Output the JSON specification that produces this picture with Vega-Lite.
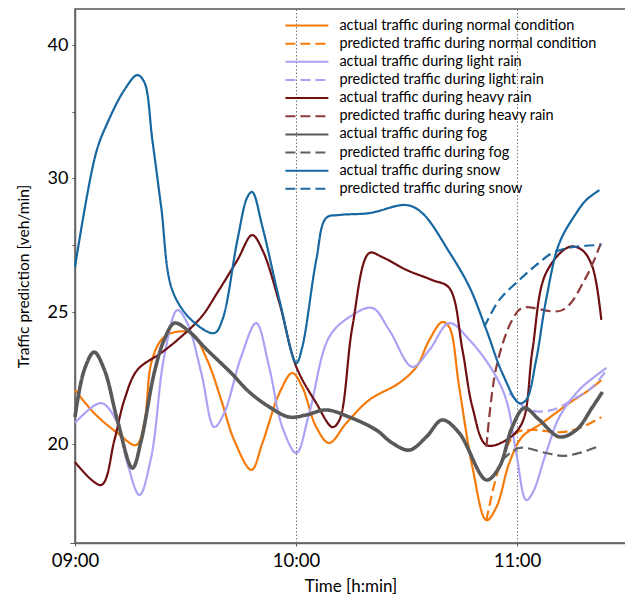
{
  "$schema": "https://vega.github.io/schema/vega-lite/v6.json",
  "autosize": {"type": "none"},
  "padding": {"left": 75, "top": 9, "right": 0, "bottom": 57},
  "width": 551,
  "height": 534,
  "background": "white",
  "config": {
    "font": "Lato",
    "view": {"stroke": "#555555", "strokeWidth": 1.5},
    "axis": {"labelFont": "Lato", "titleFont": "Lato", "labelColor": "#000", "titleColor": "#000", "titleFontWeight": "normal", "domainColor": "#666666", "domainWidth": 1.5, "tickColor": "#555555"},
    "legend": {
      "title": null, "orient": "none", "legendX": 224.4, "legendY": 9,
      "symbolType": "M-3.5,0H3.5", "symbolSize": 151, "symbolStrokeWidth": 2,
      "labelFont": "Lato", "labelFontSize": 14.5, "labelColor": "#000", "labelOffset": 25,
      "rowPadding": 3.15, "padding": 0, "labelLimit": 400
    }
  },
  "data": {
    "format": {"parse": {"t": "date:'%H:%M:%S'"}},
    "values": [
      {"s": "actual traffic during normal condition", "t": "09:00:00", "v": 22.05},
      {"s": "actual traffic during normal condition", "t": "09:05:12", "v": 21.17},
      {"s": "actual traffic during normal condition", "t": "09:11:30", "v": 20.42},
      {"s": "actual traffic during normal condition", "t": "09:16:36", "v": 19.96},
      {"s": "actual traffic during normal condition", "t": "09:18:48", "v": 20.8},
      {"s": "actual traffic during normal condition", "t": "09:20:42", "v": 23.07},
      {"s": "actual traffic during normal condition", "t": "09:23:24", "v": 23.94},
      {"s": "actual traffic during normal condition", "t": "09:26:06", "v": 24.2},
      {"s": "actual traffic during normal condition", "t": "09:31:36", "v": 24.2},
      {"s": "actual traffic during normal condition", "t": "09:35:54", "v": 23.18},
      {"s": "actual traffic during normal condition", "t": "09:39:42", "v": 21.67},
      {"s": "actual traffic during normal condition", "t": "09:43:12", "v": 20.15},
      {"s": "actual traffic during normal condition", "t": "09:47:54", "v": 19.02},
      {"s": "actual traffic during normal condition", "t": "09:50:54", "v": 20.04},
      {"s": "actual traffic during normal condition", "t": "09:55:30", "v": 21.93},
      {"s": "actual traffic during normal condition", "t": "09:59:00", "v": 22.69},
      {"s": "actual traffic during normal condition", "t": "10:01:42", "v": 22.16},
      {"s": "actual traffic during normal condition", "t": "10:05:30", "v": 20.64},
      {"s": "actual traffic during normal condition", "t": "10:09:00", "v": 20.04},
      {"s": "actual traffic during normal condition", "t": "10:13:42", "v": 20.8},
      {"s": "actual traffic during normal condition", "t": "10:19:54", "v": 21.67},
      {"s": "actual traffic during normal condition", "t": "10:28:00", "v": 22.31},
      {"s": "actual traffic during normal condition", "t": "10:32:42", "v": 22.92},
      {"s": "actual traffic during normal condition", "t": "10:36:12", "v": 23.94},
      {"s": "actual traffic during normal condition", "t": "10:39:42", "v": 24.62},
      {"s": "actual traffic during normal condition", "t": "10:41:36", "v": 24.43},
      {"s": "actual traffic during normal condition", "t": "10:44:18", "v": 22.16},
      {"s": "actual traffic during normal condition", "t": "10:47:54", "v": 19.13},
      {"s": "actual traffic during normal condition", "t": "10:51:42", "v": 17.12},
      {"s": "actual traffic during normal condition", "t": "10:54:24", "v": 17.61},
      {"s": "actual traffic during normal condition", "t": "10:57:54", "v": 19.28},
      {"s": "actual traffic during normal condition", "t": "11:01:24", "v": 20.27},
      {"s": "actual traffic during normal condition", "t": "11:06:54", "v": 20.8},
      {"s": "actual traffic during normal condition", "t": "11:14:12", "v": 21.55},
      {"s": "actual traffic during normal condition", "t": "11:19:36", "v": 22.05},
      {"s": "actual traffic during normal condition", "t": "11:22:54", "v": 22.42},

      {"s": "predicted traffic during normal condition", "t": "10:51:42", "v": 17.12},
      {"s": "predicted traffic during normal condition", "t": "10:55:12", "v": 19.13},
      {"s": "predicted traffic during normal condition", "t": "10:59:48", "v": 20.42},
      {"s": "predicted traffic during normal condition", "t": "11:04:12", "v": 20.53},
      {"s": "predicted traffic during normal condition", "t": "11:12:18", "v": 20.45},
      {"s": "predicted traffic during normal condition", "t": "11:17:42", "v": 20.64},
      {"s": "predicted traffic during normal condition", "t": "11:22:54", "v": 21.02},

      {"s": "actual traffic during light rain", "t": "09:00:00", "v": 20.8},
      {"s": "actual traffic during light rain", "t": "09:07:06", "v": 21.55},
      {"s": "actual traffic during light rain", "t": "09:11:30", "v": 20.8},
      {"s": "actual traffic during light rain", "t": "09:14:12", "v": 19.28},
      {"s": "actual traffic during light rain", "t": "09:17:30", "v": 18.07},
      {"s": "actual traffic during light rain", "t": "09:20:42", "v": 19.51},
      {"s": "actual traffic during light rain", "t": "09:24:12", "v": 23.3},
      {"s": "actual traffic during light rain", "t": "09:27:48", "v": 25.07},
      {"s": "actual traffic during light rain", "t": "09:30:30", "v": 24.58},
      {"s": "actual traffic during light rain", "t": "09:34:18", "v": 22.69},
      {"s": "actual traffic during light rain", "t": "09:37:48", "v": 20.64},
      {"s": "actual traffic during light rain", "t": "09:40:30", "v": 21.17},
      {"s": "actual traffic during light rain", "t": "09:45:06", "v": 23.3},
      {"s": "actual traffic during light rain", "t": "09:49:12", "v": 24.58},
      {"s": "actual traffic during light rain", "t": "09:52:42", "v": 22.92},
      {"s": "actual traffic during light rain", "t": "09:56:18", "v": 20.64},
      {"s": "actual traffic during light rain", "t": "10:00:06", "v": 19.66},
      {"s": "actual traffic during light rain", "t": "10:03:36", "v": 21.17},
      {"s": "actual traffic during light rain", "t": "10:09:00", "v": 24.05},
      {"s": "actual traffic during light rain", "t": "10:14:30", "v": 24.81},
      {"s": "actual traffic during light rain", "t": "10:20:42", "v": 25.15},
      {"s": "actual traffic during light rain", "t": "10:25:18", "v": 24.32},
      {"s": "actual traffic during light rain", "t": "10:31:36", "v": 22.92},
      {"s": "actual traffic during light rain", "t": "10:36:12", "v": 23.56},
      {"s": "actual traffic during light rain", "t": "10:41:36", "v": 24.58},
      {"s": "actual traffic during light rain", "t": "10:47:06", "v": 23.94},
      {"s": "actual traffic during light rain", "t": "10:53:18", "v": 22.8},
      {"s": "actual traffic during light rain", "t": "10:57:06", "v": 21.67},
      {"s": "actual traffic during light rain", "t": "10:59:48", "v": 19.66},
      {"s": "actual traffic during light rain", "t": "11:02:30", "v": 17.88},
      {"s": "actual traffic during light rain", "t": "11:04:12", "v": 18.14},
      {"s": "actual traffic during light rain", "t": "11:07:54", "v": 19.66},
      {"s": "actual traffic during light rain", "t": "11:11:30", "v": 21.02},
      {"s": "actual traffic during light rain", "t": "11:16:54", "v": 22.05},
      {"s": "actual traffic during light rain", "t": "11:22:24", "v": 22.69},
      {"s": "actual traffic during light rain", "t": "11:24:18", "v": 22.88},

      {"s": "predicted traffic during light rain", "t": "10:57:54", "v": 21.93},
      {"s": "predicted traffic during light rain", "t": "11:03:24", "v": 21.29},
      {"s": "predicted traffic during light rain", "t": "11:09:36", "v": 21.29},
      {"s": "predicted traffic during light rain", "t": "11:15:00", "v": 21.67},
      {"s": "predicted traffic during light rain", "t": "11:20:30", "v": 22.16},
      {"s": "predicted traffic during light rain", "t": "11:24:18", "v": 22.8},

      {"s": "actual traffic during heavy rain", "t": "09:00:00", "v": 19.32},
      {"s": "actual traffic during heavy rain", "t": "09:07:06", "v": 18.45},
      {"s": "actual traffic during heavy rain", "t": "09:10:42", "v": 20.15},
      {"s": "actual traffic during heavy rain", "t": "09:13:24", "v": 21.67},
      {"s": "actual traffic during heavy rain", "t": "09:16:54", "v": 22.8},
      {"s": "actual traffic during heavy rain", "t": "09:23:24", "v": 23.45},
      {"s": "actual traffic during heavy rain", "t": "09:27:48", "v": 23.94},
      {"s": "actual traffic during heavy rain", "t": "09:34:18", "v": 24.81},
      {"s": "actual traffic during heavy rain", "t": "09:38:36", "v": 25.71},
      {"s": "actual traffic during heavy rain", "t": "09:44:06", "v": 26.94},
      {"s": "actual traffic during heavy rain", "t": "09:48:06", "v": 27.87},
      {"s": "actual traffic during heavy rain", "t": "09:50:54", "v": 27.31},
      {"s": "actual traffic during heavy rain", "t": "09:55:30", "v": 25.34},
      {"s": "actual traffic during heavy rain", "t": "10:00:06", "v": 22.92},
      {"s": "actual traffic during heavy rain", "t": "10:05:30", "v": 21.55},
      {"s": "actual traffic during heavy rain", "t": "10:09:54", "v": 20.64},
      {"s": "actual traffic during heavy rain", "t": "10:11:48", "v": 20.91},
      {"s": "actual traffic during heavy rain", "t": "10:15:18", "v": 24.43},
      {"s": "actual traffic during heavy rain", "t": "10:19:54", "v": 27.2},
      {"s": "actual traffic during heavy rain", "t": "10:23:24", "v": 27.05},
      {"s": "actual traffic during heavy rain", "t": "10:30:00", "v": 26.57},
      {"s": "actual traffic during heavy rain", "t": "10:37:00", "v": 26.19},
      {"s": "actual traffic during heavy rain", "t": "10:41:36", "v": 25.9},
      {"s": "actual traffic during heavy rain", "t": "10:45:12", "v": 23.56},
      {"s": "actual traffic during heavy rain", "t": "10:47:54", "v": 21.4},
      {"s": "actual traffic during heavy rain", "t": "10:51:42", "v": 19.96},
      {"s": "actual traffic during heavy rain", "t": "10:57:06", "v": 20.15},
      {"s": "actual traffic during heavy rain", "t": "11:01:24", "v": 20.8},
      {"s": "actual traffic during heavy rain", "t": "11:04:12", "v": 23.56},
      {"s": "actual traffic during heavy rain", "t": "11:07:54", "v": 26.46},
      {"s": "actual traffic during heavy rain", "t": "11:14:12", "v": 27.43},
      {"s": "actual traffic during heavy rain", "t": "11:17:42", "v": 27.31},
      {"s": "actual traffic during heavy rain", "t": "11:20:30", "v": 26.68},
      {"s": "actual traffic during heavy rain", "t": "11:22:54", "v": 24.7},

      {"s": "predicted traffic during heavy rain", "t": "10:51:42", "v": 19.89},
      {"s": "predicted traffic during heavy rain", "t": "10:54:24", "v": 22.92},
      {"s": "predicted traffic during heavy rain", "t": "10:58:42", "v": 24.7},
      {"s": "predicted traffic during heavy rain", "t": "11:01:24", "v": 25.15},
      {"s": "predicted traffic during heavy rain", "t": "11:12:18", "v": 25.07},
      {"s": "predicted traffic during heavy rain", "t": "11:18:48", "v": 26.31},
      {"s": "predicted traffic during heavy rain", "t": "11:22:54", "v": 27.61},

      {"s": "actual traffic during fog", "t": "09:00:00", "v": 21.02},
      {"s": "actual traffic during fog", "t": "09:02:30", "v": 22.8},
      {"s": "actual traffic during fog", "t": "09:05:12", "v": 23.48},
      {"s": "actual traffic during fog", "t": "09:08:00", "v": 22.8},
      {"s": "actual traffic during fog", "t": "09:11:30", "v": 20.91},
      {"s": "actual traffic during fog", "t": "09:15:36", "v": 19.09},
      {"s": "actual traffic during fog", "t": "09:18:00", "v": 20.15},
      {"s": "actual traffic during fog", "t": "09:21:30", "v": 22.69},
      {"s": "actual traffic during fog", "t": "09:24:12", "v": 23.94},
      {"s": "actual traffic during fog", "t": "09:27:00", "v": 24.58},
      {"s": "actual traffic during fog", "t": "09:30:30", "v": 24.32},
      {"s": "actual traffic during fog", "t": "09:35:54", "v": 23.56},
      {"s": "actual traffic during fog", "t": "09:42:24", "v": 22.69},
      {"s": "actual traffic during fog", "t": "09:47:18", "v": 21.97},
      {"s": "actual traffic during fog", "t": "09:52:48", "v": 21.4},
      {"s": "actual traffic during fog", "t": "09:58:12", "v": 21.02},
      {"s": "actual traffic during fog", "t": "10:02:48", "v": 21.1},
      {"s": "actual traffic during fog", "t": "10:08:12", "v": 21.29},
      {"s": "actual traffic during fog", "t": "10:14:30", "v": 21.02},
      {"s": "actual traffic during fog", "t": "10:21:48", "v": 20.53},
      {"s": "actual traffic during fog", "t": "10:26:06", "v": 20.04},
      {"s": "actual traffic during fog", "t": "10:30:48", "v": 19.77},
      {"s": "actual traffic during fog", "t": "10:35:24", "v": 20.27},
      {"s": "actual traffic during fog", "t": "10:39:42", "v": 20.91},
      {"s": "actual traffic during fog", "t": "10:44:18", "v": 20.42},
      {"s": "actual traffic during fog", "t": "10:51:42", "v": 18.64},
      {"s": "actual traffic during fog", "t": "10:55:12", "v": 19.13},
      {"s": "actual traffic during fog", "t": "10:58:42", "v": 20.64},
      {"s": "actual traffic during fog", "t": "11:02:00", "v": 21.36},
      {"s": "actual traffic during fog", "t": "11:06:06", "v": 20.91},
      {"s": "actual traffic during fog", "t": "11:11:30", "v": 20.27},
      {"s": "actual traffic during fog", "t": "11:16:06", "v": 20.53},
      {"s": "actual traffic during fog", "t": "11:20:30", "v": 21.4},
      {"s": "actual traffic during fog", "t": "11:23:12", "v": 21.97},

      {"s": "predicted traffic during fog", "t": "10:56:00", "v": 19.39},
      {"s": "predicted traffic during fog", "t": "11:00:36", "v": 19.85},
      {"s": "predicted traffic during fog", "t": "11:07:54", "v": 19.66},
      {"s": "predicted traffic during fog", "t": "11:12:18", "v": 19.55},
      {"s": "predicted traffic during fog", "t": "11:16:54", "v": 19.66},
      {"s": "predicted traffic during fog", "t": "11:21:48", "v": 19.89},

      {"s": "actual traffic during snow", "t": "09:00:00", "v": 26.68},
      {"s": "actual traffic during snow", "t": "09:05:42", "v": 31.88},
      {"s": "actual traffic during snow", "t": "09:08:48", "v": 34.14},
      {"s": "actual traffic during snow", "t": "09:13:24", "v": 36.62},
      {"s": "actual traffic during snow", "t": "09:16:54", "v": 37.74},
      {"s": "actual traffic during snow", "t": "09:18:48", "v": 37.22},
      {"s": "actual traffic during snow", "t": "09:21:00", "v": 32.86},
      {"s": "actual traffic during snow", "t": "09:23:24", "v": 28.92},
      {"s": "actual traffic during snow", "t": "09:26:24", "v": 25.82},
      {"s": "actual traffic during snow", "t": "09:31:36", "v": 24.7},
      {"s": "actual traffic during snow", "t": "09:37:48", "v": 24.2},
      {"s": "actual traffic during snow", "t": "09:40:00", "v": 24.7},
      {"s": "actual traffic during snow", "t": "09:44:06", "v": 27.69},
      {"s": "actual traffic during snow", "t": "09:46:48", "v": 29.29},
      {"s": "actual traffic during snow", "t": "09:48:06", "v": 29.48},
      {"s": "actual traffic during snow", "t": "09:50:54", "v": 28.17},
      {"s": "actual traffic during snow", "t": "09:55:30", "v": 25.45},
      {"s": "actual traffic during snow", "t": "10:00:06", "v": 23.07},
      {"s": "actual traffic during snow", "t": "10:01:42", "v": 23.67},
      {"s": "actual traffic during snow", "t": "10:05:30", "v": 26.94},
      {"s": "actual traffic during snow", "t": "10:08:12", "v": 28.51},
      {"s": "actual traffic during snow", "t": "10:11:48", "v": 28.62},
      {"s": "actual traffic during snow", "t": "10:19:54", "v": 28.69},
      {"s": "actual traffic during snow", "t": "10:30:00", "v": 28.99},
      {"s": "actual traffic during snow", "t": "10:34:18", "v": 28.69},
      {"s": "actual traffic during snow", "t": "10:41:36", "v": 27.24},
      {"s": "actual traffic during snow", "t": "10:47:06", "v": 25.93},
      {"s": "actual traffic during snow", "t": "10:51:42", "v": 24.32},
      {"s": "actual traffic during snow", "t": "10:56:00", "v": 22.69},
      {"s": "actual traffic during snow", "t": "11:00:36", "v": 21.55},
      {"s": "actual traffic during snow", "t": "11:02:30", "v": 21.67},
      {"s": "actual traffic during snow", "t": "11:05:12", "v": 23.18},
      {"s": "actual traffic during snow", "t": "11:07:54", "v": 25.45},
      {"s": "actual traffic during snow", "t": "11:11:30", "v": 27.57},
      {"s": "actual traffic during snow", "t": "11:16:06", "v": 28.69},
      {"s": "actual traffic during snow", "t": "11:18:48", "v": 29.18},
      {"s": "actual traffic during snow", "t": "11:22:24", "v": 29.55},

      {"s": "predicted traffic during snow", "t": "10:51:06", "v": 24.43},
      {"s": "predicted traffic during snow", "t": "10:55:12", "v": 25.45},
      {"s": "predicted traffic during snow", "t": "11:00:36", "v": 26.19},
      {"s": "predicted traffic during snow", "t": "11:05:12", "v": 26.75},
      {"s": "predicted traffic during snow", "t": "11:09:36", "v": 27.2},
      {"s": "predicted traffic during snow", "t": "11:15:00", "v": 27.42},
      {"s": "predicted traffic during snow", "t": "11:22:54", "v": 27.5}
    ]
  },
  "encoding": {
    "x": {
      "field": "t", "type": "temporal",
      "scale": {"domain": [{"year": 1900, "month": 1, "date": 1, "hours": 9, "minutes": 0}, {"year": 1900, "month": 1, "date": 1, "hours": 11, "minutes": 29, "seconds": 36}], "nice": false},
      "axis": {
        "title": "Time [h:min]", "titleFontSize": 17, "titlePadding": 9,
        "format": "%H:%M", "labelFontSize": 18.5, "labelPadding": 5, "tickSize": 3, "labelFlush": false,
        "values": [{"year": 1900, "month": 1, "date": 1, "hours": 9}, {"year": 1900, "month": 1, "date": 1, "hours": 10}, {"year": 1900, "month": 1, "date": 1, "hours": 11}],
        "grid": true, "gridDash": [1.5, 2], "gridColor": "#777777", "gridWidth": 1,
        "gridOpacity": {"condition": {"test": "hours(datum.value) == 9", "value": 0}, "value": 1}
      }
    },
    "y": {
      "field": "v", "type": "quantitative",
      "scale": {"domain": [16.26, 20, 25, 30, 40, 42.7], "range": [534, 435, 303, 169, 36, 0], "nice": false, "zero": false},
      "axis": {
        "title": "Traffic prediction [veh/min]", "titleFontSize": 15.5, "titlePadding": 16,
        "values": [16.26, 20, 25, 27.5, 30, 35, 40],
        "labelExpr": "(datum.value == 20 || datum.value == 25 || datum.value == 30 || datum.value == 40) ? format(datum.value, 'd') : ''",
        "labelFontSize": 18, "labelPadding": 4, "grid": false,
        "tickSize": {"condition": {"test": "datum.value < 17", "value": 5}, "value": 3}
      }
    },
    "color": {
      "field": "s", "type": "nominal",
      "scale": {
        "domain": ["actual traffic during normal condition", "predicted traffic during normal condition", "actual traffic during light rain", "predicted traffic during light rain", "actual traffic during heavy rain", "predicted traffic during heavy rain", "actual traffic during fog", "predicted traffic during fog", "actual traffic during snow", "predicted traffic during snow"],
        "range": ["#f57a0a", "#f57a0a", "#aaa2f5", "#aaa2f5", "#6e0f12", "#8e3b3e", "#595959", "#5f5f5f", "#1767a0", "#1d6aa3"]
      }
    },
    "strokeDash": {
      "field": "s", "type": "nominal",
      "scale": {
        "domain": ["actual traffic during normal condition", "predicted traffic during normal condition", "actual traffic during light rain", "predicted traffic during light rain", "actual traffic during heavy rain", "predicted traffic during heavy rain", "actual traffic during fog", "predicted traffic during fog", "actual traffic during snow", "predicted traffic during snow"],
        "range": [[1, 0], [10, 5], [1, 0], [10, 5], [1, 0], [10, 5], [1, 0], [10, 5], [1, 0], [10, 5]]
      }
    }
  },
  "layer": [
    {
      "transform": [{"filter": "datum.s != 'actual traffic during fog'"}],
      "mark": {"type": "line", "interpolate": "catmull-rom", "strokeWidth": 2.2}
    },
    {
      "transform": [{"filter": "datum.s == 'actual traffic during fog'"}],
      "mark": {"type": "line", "interpolate": "catmull-rom", "strokeWidth": 3.6}
    }
  ]
}
